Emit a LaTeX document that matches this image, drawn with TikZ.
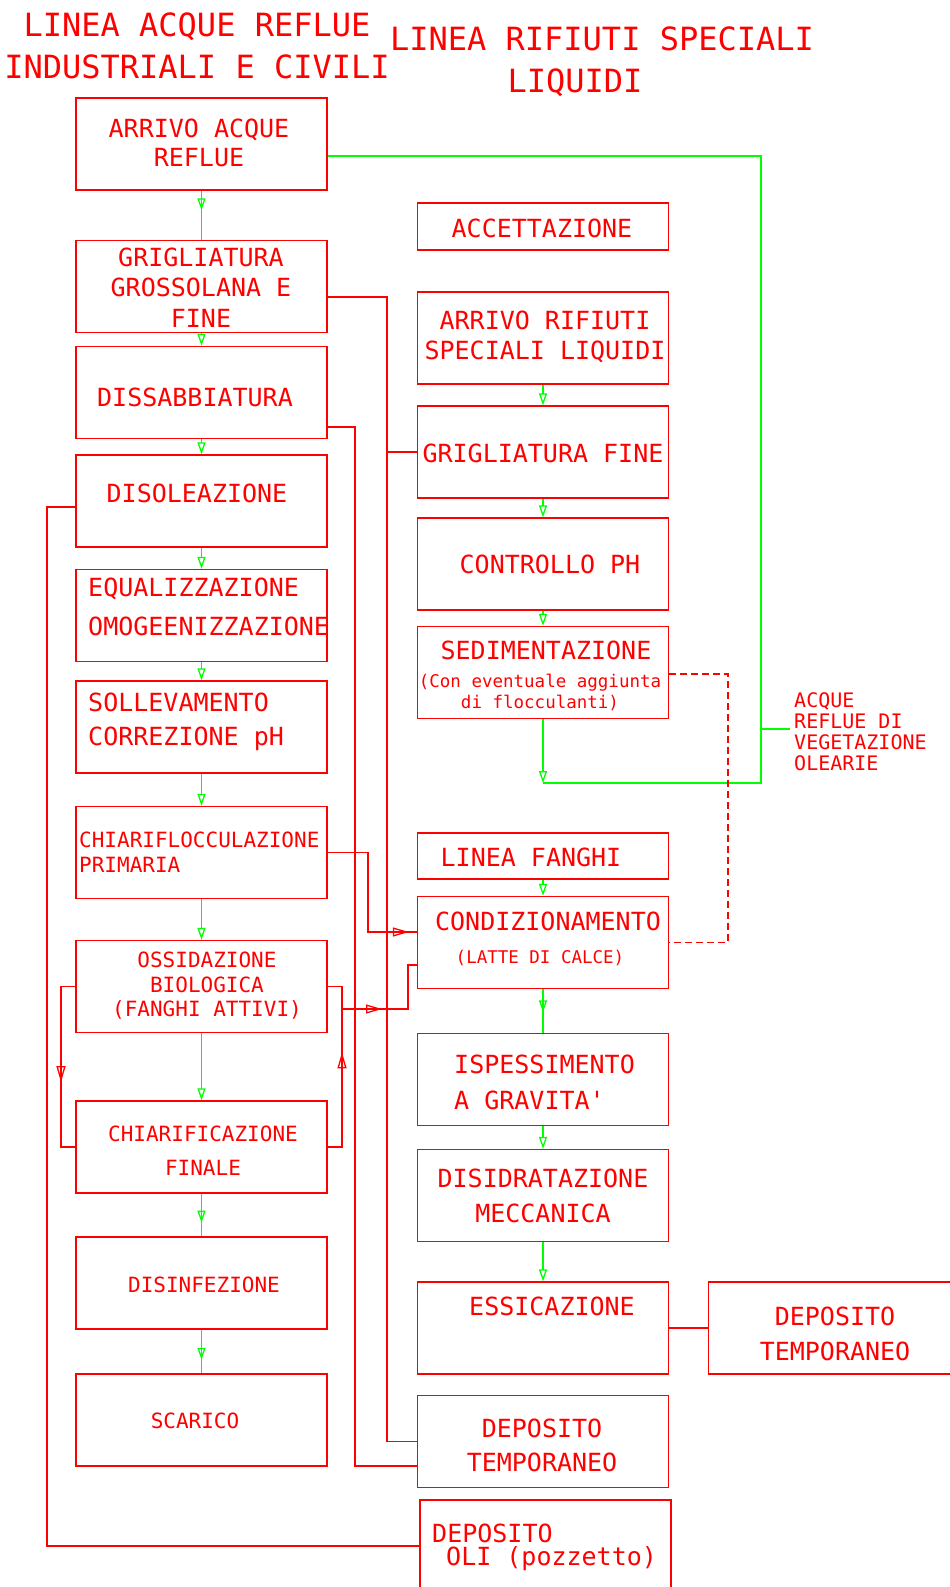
\documentclass[tikz,border=0pt]{standalone}
\usepackage{fontspec}
\newfontfamily\cadfont{DejaVu Sans Mono}
\usetikzlibrary{arrows.meta,decorations.markings}
\definecolor{cadred}{RGB}{255,0,0}
\definecolor{cadgreen}{RGB}{0,255,0}

\tikzset{
  fase/.style={draw=cadred, line width=1.3pt, minimum width=251pt, minimum height=92pt, inner sep=0pt},
  scritta/.style={text=cadred, inner sep=0pt, align=center, font=\fontsize{25}{30}\cadfont},
  linea/.style={draw=cadgreen, color=cadgreen, line width=1.3pt},
  flusso/.style={linea, -{Triangle[open,length=12pt,width=8pt]}},
  puntaverde/.style={linea, postaction={decorate, decoration={markings, mark=at position #1 with {\arrow{Triangle[open,length=12pt,width=8pt]}}}}},
  tubo/.style={draw=cadred, color=cadred, line width=1.3pt},
  puntarossa/.style={tubo, postaction={decorate, decoration={markings, mark=at position #1 with {\arrow{Triangle[open,length=16pt,width=9pt]}}}}},
}

\begin{document}
\begin{tikzpicture}[x=1pt,y=-1pt]
\useasboundingbox (0,0) rectangle (950,1587);

% titoli
\node[scritta, font=\fontsize{32}{42.5}\cadfont] (titolo1) at (197,45.7) {LINEA ACQUE REFLUE\\INDUSTRIALI E CIVILI};
\node[scritta, font=\fontsize{32}{42}\cadfont] (titolo2) at (602,62) {LINEA RIFIUTI SPECIALI\\LIQUIDI\hspace*{54pt}};

% linea acque reflue
\node[fase] (arrivo)  at (201.5,144) {};
\node[fase] (grossol) at (201.5,286.5) {};
\node[fase] (dissab)  at (201.5,392.5) {};
\node[fase] (disol)   at (201.5,501) {};
\node[fase] (equal)   at (201.5,615.5) {};
\node[fase] (sollev)  at (201.5,727) {};
\node[fase] (chfloc)  at (201.5,852.5) {};
\node[fase] (ossid)   at (201.5,986.5) {};
\node[fase] (chfin)   at (201.5,1147) {};
\node[fase] (disinf)  at (201.5,1283) {};
\node[fase] (scarico) at (201.5,1420) {};

\node[scritta, font=\fontsize{25}{29.5}\cadfont] (tarrivo) at (199,143) {ARRIVO ACQUE\\REFLUE};
\node[scritta, font=\fontsize{25}{30.5}\cadfont] (tgrossol) at (201,287.5) {GRIGLIATURA\\GROSSOLANA E\\FINE};
\node[scritta] (tdissab) at (195,397) {DISSABBIATURA};
\node[scritta] (tdisol) at (197,493) {DISOLEAZIONE};
\node[scritta, anchor=west, align=left, font=\fontsize{25}{39}\cadfont] (tequal) at (88,606.5) {EQUALIZZAZIONE\\OMOGEENIZZAZIONE};
\node[scritta, anchor=west, align=left, font=\fontsize{25}{34}\cadfont] (tsollev) at (88,722) {SOLLEVAMENTO\\CORREZIONE pH};
\node[scritta, anchor=west, align=left, font=\fontsize{21}{25}\cadfont] (tchfloc) at (79,852.5) {CHIARIFLOCCULAZIONE\\PRIMARIA};
\node[scritta, font=\fontsize{21}{24.5}\cadfont] (tossid) at (207,986) {OSSIDAZIONE\\BIOLOGICA\\(FANGHI ATTIVI)};
\node[scritta, font=\fontsize{21}{34}\cadfont] (tchfin) at (203,1151) {CHIARIFICAZIONE\\FINALE};
\node[scritta, font=\fontsize{21}{25}\cadfont] (tdisinf) at (204,1285) {DISINFEZIONE};
\node[scritta, font=\fontsize{21}{25}\cadfont] (tscarico) at (195,1421) {SCARICO};

% linea rifiuti speciali liquidi e fanghi
\node[fase, minimum height=47pt] (accett) at (543,226.5) {};
\node[fase] (arrrif)  at (543,338) {};
\node[fase] (grigfin) at (543,452) {};
\node[fase] (contr)   at (543,564) {};
\node[fase] (sedim)   at (543,672.5) {};
\node[fase, minimum height=46pt] (fanghi) at (543,856) {};
\node[fase] (condiz)  at (543,942.5) {};
\node[fase] (ispess)  at (543,1079.5) {};
\node[fase] (disidr)  at (543,1195.5) {};
\node[fase] (essic)   at (543,1328) {};
\node[fase] (deptemp) at (543,1441.5) {};
\node[fase] (depoli)  at (545.5,1546) {};
\node[fase] (depfin)  at (834,1328) {};

\node[scritta] (taccett) at (542,228) {ACCETTAZIONE};
\node[scritta] (tarrrif) at (545,337) {ARRIVO RIFIUTI\\SPECIALI LIQUIDI};
\node[scritta] (tgrigfin) at (543,453) {GRIGLIATURA FINE};
\node[scritta] (tcontr) at (550,564) {CONTROLLO PH};
\node[scritta] (tsedim) at (546,650) {SEDIMENTAZIONE};
\node[scritta, font=\fontsize{17.5}{21}\cadfont] (tsedim2) at (540,692.5) {(Con eventuale aggiunta\\di flocculanti)};
\node[scritta] (tfanghi) at (531,857) {LINEA FANGHI};
\node[scritta] (tcondiz) at (548,921) {CONDIZIONAMENTO};
\node[scritta, font=\fontsize{17.5}{21}\cadfont] (tcondiz2) at (540,958) {(LATTE DI CALCE)};
\node[scritta, anchor=west, align=left, font=\fontsize{25}{36}\cadfont] (tispess) at (454,1082) {ISPESSIMENTO\\A GRAVITA'};
\node[scritta, font=\fontsize{25}{35}\cadfont] (tdisidr) at (543,1195.5) {DISIDRATAZIONE\\MECCANICA};
\node[scritta] (tessic) at (552,1306) {ESSICAZIONE};
\node[scritta, font=\fontsize{25}{34}\cadfont] (tdeptemp) at (542,1445) {DEPOSITO\\TEMPORANEO};
\node[scritta, anchor=west, align=left, font=\fontsize{25}{23}\cadfont] (tdepoli) at (432,1547.5) {DEPOSITO\\\hspace*{14pt}OLI (pozzetto)};
\node[scritta, font=\fontsize{25}{35}\cadfont] (tdepfin) at (835,1333.5) {DEPOSITO\\TEMPORANEO};
\node[scritta, anchor=west, align=left, inner xsep=4pt, font=\fontsize{20}{21}\cadfont] (olearie) at (790,731.5) {ACQUE\\REFLUE DI\\VEGETAZIONE\\OLEARIE};

% flusso acque (verde)
\draw[puntaverde=0.4] (arrivo) -- (grossol);
\draw[flusso] (grossol) -- (dissab);
\draw[flusso] (dissab) -- (disol);
\draw[flusso] (disol) -- (equal);
\draw[flusso] (equal) -- (sollev);
\draw[flusso] (sollev) -- (chfloc);
\draw[flusso] (chfloc) -- (ossid);
\draw[flusso] (ossid) -- (chfin);
\draw[puntaverde=0.68] (chfin) -- (disinf);
\draw[puntaverde=0.69] (disinf) -- (scarico);

\draw[flusso] (arrrif) -- (grigfin);
\draw[flusso] (grigfin) -- (contr);
\draw[flusso] (contr) -- (sedim);
\coordinate (nodo) at (543,783);
\coordinate (vgt) at (761,729);
\draw[flusso] (sedim) -- (nodo);
\draw[linea] ([yshift=-12pt]arrivo.east) -| (nodo -| vgt) -- (nodo);
\draw[linea] (vgt) -- (vgt -| olearie.west);

\draw[flusso] (fanghi) -- (condiz);
\draw[puntaverde=0.53] (condiz) -- (ispess);
\draw[flusso] (ispess) -- (disidr);
\draw[flusso] (disidr) -- (essic);

% residui e fanghi (rosso)
\coordinate (grig) at (387,452);
\draw[tubo] ([yshift=-10.5pt]grossol.east) -| (387,1441.5) -- (deptemp.west);
\draw[tubo] (grig) -- (grigfin.west);
\draw[tubo] ([yshift=-34.5pt]dissab.east) -| (355,1466) -- ([yshift=-24.5pt]deptemp.west);
\draw[tubo] ([yshift=-6pt]disol.west) -| (47,1546) -- (depoli.west);
\draw[puntarossa=-8pt] (chfloc.east) -| (368,932) -- ([yshift=10.5pt]condiz.west);
\draw[puntarossa=110pt] (ossid.west) -| (61,1147) -- (chfin.west);
\draw[puntarossa=109pt] (chfin.east) -| (342,986.5) -- (ossid.east);
\coordinate (supero) at (342,1009);
\draw[puntarossa=40pt] (supero) -- (408,1009) |- ([yshift=-22.5pt]condiz.west);
\draw[tubo, dash pattern=on 7pt off 4pt] ([yshift=-1.5pt]sedim.east) -| (728,942.5) -- (condiz.east);
\draw[tubo] (essic) -- (depfin);
\end{tikzpicture}
\end{document}
